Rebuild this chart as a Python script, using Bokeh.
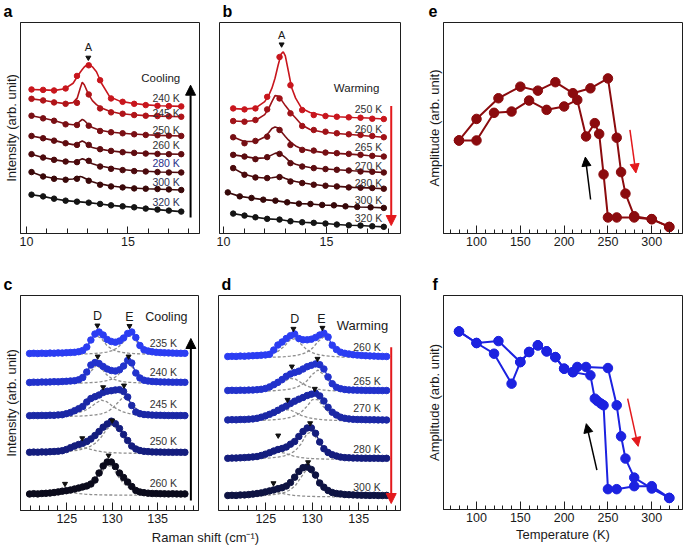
from bokeh.plotting import figure
from bokeh.models import Range1d, FixedTicker, Arrow, NormalHead
from bokeh.layouts import row, column
from bokeh.embed import file_html
from bokeh.resources import INLINE
from bokeh.core.properties import value

FONT = "Liberation Sans"
INK = "#1e1e1e"

# ---------------- panel a (cooling, peak A) ----------------
XA_PTS = [10.25, 10.82, 11.36, 11.93, 12.49, 13.07, 13.63, 14.17, 14.74, 15.31, 15.88, 16.46, 17.02, 17.63]
XA_FIT = [10.25, 10.8, 11.4, 11.9, 12.3, 12.5, 12.65, 12.75, 12.85, 13.0, 13.1, 13.25, 13.45, 13.7, 14.1, 14.6, 15.2, 15.9, 16.6, 17.63]
A_240_PTS = [144.7, 144.3, 143.7, 145.7, 158.3, 169.0, 154.0, 135.7, 132.3, 130.3, 129.0, 128.3, 128.0, 127.7]
A_240_FIT = [144.7, 144.3, 143.8, 145.5, 151.0, 157.5, 162.0, 164.8, 167.3, 169.6, 169.6, 167.5, 162.5, 151.0, 137.5, 133.0, 130.8, 129.2, 128.4, 127.7]
A_245_PTS = [135.3, 133.7, 131.7, 130.3, 131.3, 139.7, 125.7, 121.7, 120.3, 119.0, 118.3, 118.0, 117.7, 117.3]
A_245_FIT = [135.3, 133.8, 131.8, 130.5, 131.5, 136.0, 146.0, 152.0, 149.5, 142.5, 138.5, 133.5, 129.5, 126.0, 122.8, 120.6, 119.3, 118.4, 117.9, 117.3]
A_250_PTS = [118.3, 115.7, 113.3, 109.7, 109.0, 108.3, 103.0, 101.7, 100.7, 99.7, 99.0, 98.7, 98.3, 98.0]
A_250_FIT = [118.3, 116.0, 113.3, 110.2, 109.3, 110.0, 113.0, 114.7, 113.5, 110.5, 108.5, 106.5, 105.0, 103.5, 102.0, 101.0, 100.0, 99.2, 98.6, 98.0]
A_260_PTS = [98.0, 95.7, 93.3, 90.7, 89.0, 89.0, 84.7, 83.0, 81.7, 81.0, 80.3, 80.0, 79.7, 79.7]
A_260_FIT = [98.0, 95.8, 93.3, 90.8, 89.3, 89.8, 92.0, 93.0, 92.0, 89.5, 88.0, 86.5, 85.5, 84.5, 83.2, 82.0, 81.2, 80.5, 80.0, 79.7]
A_280_PTS = [79.7, 76.3, 74.0, 72.3, 71.7, 73.0, 67.3, 65.0, 63.7, 62.7, 62.3, 61.7, 61.3, 61.3]
A_280_FIT = [79.7, 76.3, 74.0, 72.5, 71.8, 72.5, 74.2, 75.0, 74.5, 72.8, 71.5, 70.0, 68.8, 67.5, 66.0, 64.5, 63.3, 62.5, 61.8, 61.3]
A_300_PTS = [61.7, 57.3, 55.0, 54.0, 55.0, 53.0, 49.0, 47.3, 46.3, 45.3, 45.0, 44.7, 44.3, 43.7]
A_300_FIT = [61.7, 57.5, 55.2, 54.2, 54.8, 56.5, 57.3, 56.8, 55.8, 54.2, 53.2, 52.0, 50.8, 49.6, 48.0, 46.8, 45.7, 45.0, 44.5, 43.7]
A_320_PTS = [39.0, 37.3, 35.0, 33.0, 32.0, 31.0, 29.7, 28.3, 27.3, 26.3, 25.0, 24.0, 23.0, 22.0]
A_LABELS = ["240 K", "245 K", "250 K", "260 K", "280 K", "300 K", "320 K"]
A_LABEL_Y = [136.3, 120.7, 104.0, 89.0, 71.0, 51.3, 31.3]

# ---------------- panel b (warming, peak A) ----------------
XB_PTS = [10.47, 11.02, 11.55, 12.12, 12.72, 13.25, 13.82, 14.38, 14.95, 15.5, 16.08, 16.65, 17.22, 17.78]
XB_PTS_300 = [10.21, 10.79, 11.36, 11.93, 12.52, 13.09, 13.66, 14.22, 14.79, 15.36, 15.92, 16.49, 17.14, 17.78]
XB_FIT = [10.47, 11.0, 11.55, 12.0, 12.2, 12.35, 12.5, 12.65, 12.8, 12.9, 13.0, 13.15, 13.3, 13.5, 13.8, 14.2, 14.8, 15.5, 16.3, 17.0, 17.78]
B_250_PTS = [125.7, 124.7, 125.7, 137.3, 177.3, 149.0, 124.0, 119.0, 118.0, 117.3, 116.7, 116.3, 115.3, 115.0]
B_250_FIT = [125.5, 125.0, 126.0, 132.5, 139.0, 146.0, 156.0, 169.0, 180.5, 182.5, 178.5, 163.0, 147.0, 136.0, 125.5, 121.5, 118.8, 117.3, 116.5, 116.0, 115.0]
B_260_PTS = [113.0, 112.3, 114.0, 124.7, 135.7, 120.7, 108.0, 104.0, 102.3, 100.7, 99.7, 99.0, 98.0, 96.7]
B_260_FIT = [113.0, 112.5, 113.5, 119.5, 126.0, 132.5, 138.5, 138.0, 134.5, 131.5, 128.5, 124.5, 120.5, 116.0, 109.0, 104.5, 102.0, 100.5, 99.2, 98.0, 96.7]
B_265_PTS = [96.7, 90.7, 93.0, 97.3, 104.0, 89.0, 84.0, 83.3, 81.3, 80.7, 80.0, 79.0, 78.0, 77.3]
B_265_FIT = [97.0, 92.5, 92.5, 97.0, 101.5, 105.5, 107.0, 106.0, 102.5, 100.0, 97.5, 94.0, 91.0, 88.0, 85.0, 83.3, 81.5, 80.5, 79.5, 78.3, 77.3]
B_270_PTS = [79.0, 77.3, 74.7, 76.7, 80.0, 70.7, 67.3, 65.7, 64.7, 64.0, 63.3, 62.3, 62.0, 61.3]
B_270_FIT = [79.0, 77.5, 75.5, 76.0, 77.5, 79.0, 80.5, 81.0, 79.5, 78.0, 76.5, 73.5, 71.5, 69.5, 67.8, 66.3, 65.0, 64.0, 63.0, 62.2, 61.3]
B_280_PTS = [65.7, 59.0, 56.3, 55.7, 56.7, 52.3, 50.7, 49.0, 48.0, 47.3, 46.3, 46.0, 45.7, 45.0]
B_280_FIT = [65.7, 59.5, 56.5, 55.7, 55.7, 56.0, 56.5, 57.0, 56.8, 56.2, 55.3, 54.2, 53.2, 52.2, 51.0, 49.8, 48.3, 47.3, 46.3, 45.8, 45.0]
B_300_PTS = [41.3, 37.3, 35.7, 34.0, 33.0, 31.3, 30.0, 29.7, 28.7, 28.3, 27.3, 26.7, 26.3, 25.7]
B_320_PTS = [20.0, 18.0, 16.3, 14.7, 14.0, 12.3, 11.3, 10.7, 10.0, 9.0, 8.3, 8.0, 7.3, 6.7]
B_LABELS = ["250 K", "260 K", "265 K", "270 K", "280 K", "300 K", "320 K"]
B_LABEL_Y = [125.0, 105.0, 87.0, 68.3, 51.0, 34.0, 16.0]

# ---------------- panels c, d (modes D and E) ----------------
X_CD = [120.9, 121.35, 121.8, 122.25, 122.7, 123.15, 123.6, 124.05, 124.5, 124.95, 125.4, 125.85, 126.3,
        126.75, 127.2, 127.65, 128.1, 128.55, 129.0, 129.45, 129.9, 130.35, 130.8, 131.25, 131.7, 132.15,
        132.6, 133.05, 133.5, 133.95, 134.4, 134.85, 135.3, 135.75, 136.2, 136.65, 137.1, 137.55, 138.0]
C_235 = [157.0, 157.2, 157.0, 157.3, 157.1, 157.4, 157.3, 157.6, 157.5, 157.8, 158.0, 158.2, 158.8, 160.0, 163.5, 170.5, 176.5, 178.5, 175.5, 171.0, 169.0, 168.3, 169.5, 172.5, 177.0, 178.5, 173.0, 165.0, 160.7, 159.5, 158.7, 158.2, 157.9, 157.7, 157.6, 157.4, 157.3, 157.2, 157.2]
C_240 = [128.0, 128.3, 128.2, 128.5, 128.4, 128.6, 128.8, 128.7, 129.0, 129.2, 129.5, 129.8, 130.7, 133.0, 138.5, 145.5, 148.0, 147.0, 144.0, 141.5, 140.0, 139.5, 140.7, 144.5, 150.0, 147.5, 137.5, 132.5, 130.3, 129.5, 129.0, 128.8, 128.6, 128.5, 128.4, 128.3, 128.3, 128.2, 128.2]
C_245 = [94.8, 95.0, 94.9, 95.1, 95.0, 95.3, 95.2, 95.6, 95.8, 96.8, 98.0, 99.8, 101.8, 104.0, 108.5, 112.0, 113.8, 115.5, 118.0, 119.3, 119.8, 120.5, 120.8, 119.0, 113.5, 105.0, 98.5, 96.8, 96.0, 95.7, 95.4, 95.3, 95.2, 95.1, 95.0, 95.0, 94.9, 95.0, 94.9]
C_250 = [58.2, 58.4, 58.3, 58.6, 58.5, 58.8, 59.0, 59.3, 59.8, 61.0, 62.8, 64.5, 66.0, 67.2, 69.0, 71.5, 75.0, 79.0, 83.3, 86.5, 89.3, 86.8, 82.0, 76.0, 70.0, 64.5, 61.5, 60.0, 59.2, 58.9, 58.6, 58.5, 58.4, 58.3, 58.3, 58.2, 58.3, 58.2, 58.2]
C_260 = [16.5, 16.8, 16.6, 17.0, 17.2, 17.5, 18.0, 18.6, 19.3, 19.8, 20.5, 21.5, 22.5, 23.6, 24.6, 26.5, 30.5, 37.5, 44.5, 48.5, 48.5, 44.0, 37.5, 33.0, 28.5, 24.0, 20.0, 18.5, 17.8, 17.3, 17.0, 16.9, 16.8, 16.7, 16.6, 16.7, 16.6, 16.5, 16.6]
D_260 = [154.0, 154.2, 154.1, 154.4, 154.3, 154.6, 154.8, 155.0, 155.3, 155.6, 156.2, 160.5, 165.5, 168.5, 172.0, 174.8, 176.5, 172.0, 170.7, 170.7, 171.3, 173.0, 175.5, 177.3, 173.5, 165.3, 161.0, 158.3, 157.2, 156.5, 155.8, 155.4, 155.1, 154.8, 154.6, 154.4, 154.2, 154.1, 154.0]
D_265 = [120.0, 120.2, 120.1, 120.3, 120.2, 120.4, 120.5, 120.8, 121.2, 122.0, 123.6, 125.8, 128.2, 131.0, 134.2, 136.5, 138.0, 139.3, 141.5, 143.8, 145.2, 146.6, 145.8, 141.5, 133.5, 126.8, 123.2, 121.8, 121.0, 120.6, 120.4, 120.3, 120.2, 120.1, 120.1, 120.0, 120.0, 119.9, 120.0]
D_270 = [90.6, 90.8, 90.7, 91.0, 91.0, 91.3, 91.6, 92.2, 93.3, 94.6, 96.2, 98.0, 100.2, 102.5, 104.4, 107.0, 109.3, 111.3, 113.0, 115.0, 116.3, 117.3, 114.6, 109.5, 103.2, 98.3, 95.5, 93.3, 92.2, 91.6, 91.2, 91.0, 90.9, 90.8, 90.7, 90.7, 90.6, 90.6, 90.5]
D_280 = [52.2, 52.4, 52.5, 52.7, 52.9, 53.2, 53.6, 54.0, 55.0, 56.3, 57.8, 59.5, 61.0, 62.0, 63.5, 66.3, 69.0, 74.0, 79.0, 82.5, 82.6, 77.2, 68.5, 61.8, 58.0, 55.8, 54.5, 53.4, 52.9, 52.7, 52.5, 52.4, 52.3, 52.3, 52.2, 52.3, 52.2, 52.1, 52.2]
D_300 = [15.0, 15.2, 15.1, 15.5, 15.6, 15.9, 16.4, 17.0, 17.6, 18.6, 19.6, 20.6, 21.8, 22.8, 24.5, 28.0, 33.3, 39.0, 42.8, 43.5, 41.0, 35.5, 27.5, 23.3, 20.0, 18.0, 17.0, 16.6, 16.0, 15.8, 15.6, 15.4, 15.3, 15.2, 15.1, 15.2, 15.0, 15.0, 15.1]

# fitted components (dashed grey)
XK = [120.9, 123.0, 124.5, 125.5, 126.3, 127.0, 127.6, 128.2, 128.8, 129.4, 130.0, 130.6, 131.2, 131.8, 132.4, 133.2, 134.5, 138.0]
C_235_D = [156.1, 156.5, 157.0, 158.0, 159.6, 162.8, 168.3, 175.0, 172.1, 165.1, 161.1, 159.0, 158.0, 157.3, 156.9, 156.6, 156.3, 156.0]
C_235_E = [156.0, 156.0, 156.2, 156.3, 156.4, 156.6, 156.8, 157.1, 157.6, 158.4, 159.9, 162.7, 168.3, 175.0, 172.1, 163.4, 158.4, 156.3]
C_240_D = [127.1, 127.4, 128.0, 128.8, 130.4, 133.3, 138.6, 144.9, 142.2, 135.6, 131.8, 129.9, 128.8, 128.2, 127.9, 127.6, 127.3, 127.0]
C_240_E = [127.0, 127.1, 127.2, 127.3, 127.4, 127.6, 127.9, 128.2, 128.8, 129.8, 131.5, 135.0, 141.5, 146.8, 141.5, 133.6, 129.2, 127.3]
C_245_D = [94.1, 94.5, 95.3, 96.3, 97.8, 100.0, 103.2, 107.4, 110.4, 108.8, 104.6, 101.0, 98.6, 97.1, 96.1, 95.3, 94.6, 93.9]
C_245_E = [93.7, 93.8, 94.0, 94.2, 94.4, 94.7, 95.1, 95.7, 96.7, 98.5, 101.9, 107.7, 113.3, 110.1, 103.5, 98.5, 95.6, 94.0]
C_250_D = [57.2, 57.6, 58.7, 60.5, 62.4, 62.6, 61.2, 59.8, 58.8, 58.2, 57.8, 57.6, 57.4, 57.3, 57.2, 57.1, 57.0, 56.9]
C_250_E = [57.5, 57.9, 58.6, 59.4, 60.4, 62.0, 64.2, 67.7, 73.5, 81.3, 85.8, 81.3, 73.5, 67.7, 64.2, 61.4, 59.4, 57.7]
C_260_D = [15.7, 16.6, 18.6, 18.1, 17.0, 16.3, 16.0, 15.8, 15.6, 15.5, 15.5, 15.4, 15.4, 15.35, 15.3, 15.3, 15.3, 15.2]
C_260_E = [15.9, 16.3, 17.1, 18.0, 19.4, 21.4, 24.4, 29.5, 37.5, 45.5, 43.5, 34.7, 27.5, 23.2, 20.7, 18.8, 17.2, 15.9]
D_260_D = [153.1, 153.6, 154.6, 156.3, 159.1, 164.3, 170.5, 171.9, 166.3, 160.9, 157.8, 156.0, 155.0, 154.3, 153.9, 153.5, 153.2, 152.8]
D_260_E = [152.7, 152.9, 153.0, 153.3, 153.5, 153.8, 154.3, 155.0, 156.2, 158.2, 162.1, 168.7, 173.5, 168.7, 162.1, 157.4, 154.6, 153.0]
D_265_D = [119.1, 119.6, 120.6, 122.3, 125.0, 129.1, 132.2, 131.4, 127.8, 124.6, 122.5, 121.3, 120.5, 120.0, 119.7, 119.4, 119.1, 118.8]
D_265_E = [118.8, 119.0, 119.3, 119.6, 120.1, 120.7, 121.5, 122.9, 125.3, 129.5, 136.1, 140.5, 136.1, 129.5, 125.3, 122.4, 120.4, 119.1]
D_270_D = [89.8, 90.5, 91.9, 94.1, 97.5, 100.7, 100.7, 98.0, 95.2, 93.3, 92.0, 91.3, 90.7, 90.4, 90.2, 89.9, 89.7, 89.4]
D_270_E = [89.6, 89.8, 90.1, 90.6, 91.1, 91.9, 93.0, 94.9, 98.2, 103.9, 110.8, 110.8, 103.9, 98.2, 94.9, 92.6, 90.9, 89.8]
D_280_D = [51.4, 52.2, 54.1, 57.0, 58.8, 57.4, 55.4, 53.9, 52.9, 52.3, 51.9, 51.7, 51.5, 51.4, 51.3, 51.2, 51.1, 50.9]
D_280_E = [51.2, 51.6, 52.0, 52.6, 53.4, 54.7, 56.6, 60.1, 66.7, 76.5, 78.9, 69.7, 61.9, 57.5, 55.2, 53.6, 52.3, 51.3]
D_300_D = [13.9, 14.6, 16.4, 18.3, 18.0, 16.6, 15.6, 14.9, 14.5, 14.2, 14.1, 13.9, 13.9, 13.8, 13.7, 13.7, 13.6, 13.6]
D_300_E = [13.9, 14.3, 14.8, 15.5, 16.5, 18.0, 20.5, 25.2, 33.4, 41.2, 36.7, 27.5, 21.7, 18.7, 17.0, 15.8, 14.8, 13.9]

C_TRI_X = [128.37, 131.9, 128.4, 131.8, 129.0, 131.3, 126.7, 130.0, 124.8, 129.6]
C_TRI_Y = [185.0, 184.5, 154.0, 154.0, 123.3, 125.0, 72.3, 90.0, 26.7, 55.0]
D_TRI_X = [127.97, 131.09, 127.8, 130.56, 127.33, 130.27, 126.33, 129.77, 125.82, 129.55]
D_TRI_Y = [181.7, 182.7, 144.0, 151.7, 110.7, 121.7, 75.0, 87.3, 27.3, 48.3]
C_LABELS = ["235 K", "240 K", "245 K", "250 K", "260 K"]
C_LABEL_Y = [167.3, 138.3, 106.7, 70.0, 27.3]
D_LABELS = ["260 K", "265 K", "270 K", "280 K", "300 K"]
D_LABEL_Y = [163.3, 130.0, 102.7, 61.7, 23.3]

# ---------------- panels e, f (amplitude vs temperature) ----------------
E_T_WARM = [80, 100, 125, 150, 170, 190, 210, 230, 250, 260, 265, 270, 280, 300, 320]
E_A_WARM = [44.1, 54.3, 64.1, 69.6, 67.7, 71.7, 66.5, 68.8, 73.5, 45.4, 29.1, 18.9, 8.2, 6.8, 3.1]
E_T_COOL = [320, 300, 280, 260, 250, 245, 240, 235, 225, 215, 200, 180, 160, 140, 120, 100, 80]
E_A_COOL = [3.1, 6.8, 7.6, 7.6, 7.6, 28.0, 47.2, 52.3, 46.0, 63.3, 60.2, 58.6, 63.0, 57.8, 57.2, 44.1, 44.1]
F_T_WARM = [80, 100, 125, 150, 160, 170, 180, 190, 200, 210, 215, 225, 250, 260, 265, 270, 280, 300, 320]
F_A_WARM = [83.2, 77.8, 78.7, 68.9, 73.6, 76.7, 73.9, 71.2, 65.8, 64.2, 66.6, 66.6, 66.1, 48.7, 34.2, 23.8, 14.9, 9.8, 5.4]
F_T_COOL = [320, 300, 280, 260, 250, 245, 242, 238, 235, 230, 210, 200, 190, 180, 170, 160, 150, 140, 120, 100, 80]
F_A_COOL = [5.4, 10.9, 10.9, 9.5, 9.5, 48.7, 49.5, 50.7, 51.8, 62.7, 64.2, 65.8, 71.2, 73.9, 76.7, 73.6, 68.9, 58.8, 72.8, 77.8, 83.2]
T_TICKS = [100, 150, 200, 250, 300]

TOP_LETTERS = ["a", "b", "e"]
MID_LETTERS = ["c", "d", "f"]


def base_fig(w, h, xr, yr, bl, br, bt, bb):
    p = figure(width=w, height=h, x_range=Range1d(*xr), y_range=Range1d(*yr),
               output_backend="svg", toolbar_location=None,
               min_border_left=bl, min_border_right=br, min_border_top=bt, min_border_bottom=bb)
    p.xgrid.visible = False
    p.ygrid.visible = False
    p.outline_line_color = INK
    p.outline_line_width = 1
    p.background_fill_color = "white"
    p.border_fill_color = "white"
    return p


def text_strip(w, h):
    s = figure(width=w, height=h, x_range=Range1d(0, w), y_range=Range1d(0, h),
               output_backend="svg", toolbar_location=None, min_border=0, title=None,
               x_axis_type=None, y_axis_type=None)
    s.grid.visible = False
    s.outline_line_color = None
    return s


def style_x(p, ticks, minor, maj_in, min_in, label=None):
    ax = p.xaxis[0]
    ax.ticker = FixedTicker(ticks=ticks, minor_ticks=minor)
    ax.major_tick_in = maj_in
    ax.major_tick_out = 0
    ax.minor_tick_in = min_in
    ax.minor_tick_out = 0
    ax.major_label_standoff = 3
    ax.major_label_text_font = FONT
    ax.major_label_text_font_size = "12.5px"
    ax.major_label_text_color = "#1a1a1a"
    ax.axis_line_color = INK
    ax.major_tick_line_color = INK
    ax.minor_tick_line_color = INK
    if label:
        ax.axis_label = label
        ax.axis_label_text_font = FONT
        ax.axis_label_text_font_size = "13px"
        ax.axis_label_text_font_style = "normal"
        ax.axis_label_text_color = "#1a1a1a"
        ax.axis_label_standoff = 2


def style_y(p, label=None):
    ay = p.yaxis[0]
    if label is None:
        ay.visible = False
        return
    ay.ticker = FixedTicker(ticks=[])
    ay.major_tick_in = 0
    ay.major_tick_out = 0
    ay.minor_tick_in = 0
    ay.minor_tick_out = 0
    ay.major_label_standoff = 0
    ay.axis_line_color = INK
    ay.axis_label = label
    ay.axis_label_text_font = FONT
    ay.axis_label_text_font_size = "13px"
    ay.axis_label_text_font_style = "normal"
    ay.axis_label_text_color = "#1a1a1a"
    ay.axis_label_standoff = 2


def add_text(p, xs, ys, texts, size, colors, align="right"):
    p.text(x=xs, y=ys, text=texts, text_font=value(FONT), text_font_size=size,
           text_color=colors, text_align=align, text_baseline="middle")


def add_arrow(p, x0, y0, x1, y1, col, lw=2, size=10):
    p.add_layout(Arrow(x_start=x0, y_start=y0, x_end=x1, y_end=y1, line_color=col, line_width=lw,
                       end=NormalHead(size=size, fill_color=col, line_color=col)))


# ---------- panel letters (strips above each row) ----------
top_strip = text_strip(684, 21)
top_strip.text(x=[3, 222, 428], y=[10.5, 10.5, 10.5], text=TOP_LETTERS, text_font=value(FONT),
               text_font_size="16px", text_font_style="bold", text_color="black",
               text_align="left", text_baseline="middle")
mid_strip = text_strip(684, 30)
mid_strip.text(x=[3, 221, 432], y=[10, 10, 10], text=MID_LETTERS, text_font=value(FONT),
               text_font_size="16px", text_font_style="bold", text_color="black",
               text_align="left", text_baseline="middle")

# ---------- a ----------
pa = base_fig(209, 243, (9.706, 18.53), (0, 212), 19, 10, 1, 30)
style_x(pa, [10, 15], list(range(10, 19)), 7, 5)
style_y(pa, "Intensity (arb. unit)")
a_series = [
    (XA_FIT, A_240_FIT, XA_PTS, A_240_PTS, "#c8161d"),
    (XA_FIT, A_245_FIT, XA_PTS, A_245_PTS, "#b01419"),
    (XA_FIT, A_250_FIT, XA_PTS, A_250_PTS, "#7a0f14"),
    (XA_FIT, A_260_FIT, XA_PTS, A_260_PTS, "#600c10"),
    (XA_FIT, A_280_FIT, XA_PTS, A_280_PTS, "#4c0a0d"),
    (XA_FIT, A_300_FIT, XA_PTS, A_300_PTS, "#3a0809"),
    (XA_PTS, A_320_PTS, XA_PTS, A_320_PTS, "#141414"),
]
for xf, yf, xp, yp, col in a_series:
    pa.line(xf, yf, line_color=col, line_width=1.6)
    pa.scatter(xp, yp, size=5.5, fill_color=col, line_color=col)
add_text(pa, [17.56] * 7, A_LABEL_Y, A_LABELS, "10.5px",
         ["#333333", "#333333", "#333333", "#333333", "#2a2f8a", "#2c2f55", "#2c2f55"])
add_text(pa, [16.62], [156.3], ["Cooling"], "11.5px", ["#1a1a1a"], "center")
add_text(pa, [13.05], [187.3], ["A"], "11px", ["#1a1a1a"], "center")
pa.scatter([13.05], [176.7], marker="inverted_triangle", size=5, color="#111111")
add_arrow(pa, 18.09, 16, 18.09, 149, "black")

# ---------- b ----------
pb = base_fig(214, 243, (9.806, 18.59), (0, 212), 10, 23, 1, 30)
style_x(pb, [10, 15], list(range(10, 19)), 7, 5)
style_y(pb)
b_series = [
    (XB_FIT, B_250_FIT, XB_PTS, B_250_PTS, "#c8161d"),
    (XB_FIT, B_260_FIT, XB_PTS, B_260_PTS, "#a01218"),
    (XB_FIT, B_265_FIT, XB_PTS, B_265_PTS, "#760f14"),
    (XB_FIT, B_270_FIT, XB_PTS, B_270_PTS, "#5c0c10"),
    (XB_FIT, B_280_FIT, XB_PTS, B_280_PTS, "#4a0a0c"),
    (XB_PTS_300, B_300_PTS, XB_PTS_300, B_300_PTS, "#360809"),
    (XB_PTS, B_320_PTS, XB_PTS, B_320_PTS, "#141414"),
]
for xf, yf, xp, yp, col in b_series:
    pb.line(xf, yf, line_color=col, line_width=1.6)
    pb.scatter(xp, yp, size=5.5, fill_color=col, line_color=col)
add_text(pb, [17.70] * 7, B_LABEL_Y, B_LABELS, "10.5px", ["#333333"] * 7)
add_text(pb, [16.46], [146], ["Warming"], "11.5px", ["#1a1a1a"], "center")
add_text(pb, [12.82], [199], ["A"], "11px", ["#1a1a1a"], "center")
pb.scatter([12.82], [190], marker="inverted_triangle", size=5, color="#111111")
add_arrow(pb, 18.14, 128, 18.14, 8, "#e3191c")

# ---------- e ----------
pe = base_fig(261, 243, (62.3, 335.1), (0, 100), 18, 2, 1, 31)
style_x(pe, T_TICKS, list(range(70, 340, 10)), 8, 4)
style_y(pe, "Amplitude (arb. unit)")
for xs, ys in [(E_T_WARM, E_A_WARM), (E_T_COOL, E_A_COOL)]:
    pe.line(xs, ys, line_color="#8b0b0e", line_width=2)
    pe.scatter(xs, ys, size=9.5, fill_color="#8b0b0e", line_color="#8b0b0e")
add_arrow(pe, 230.2, 16.1, 224.2, 36.2, "black", 1.5, 9)
add_arrow(pe, 275.1, 49.1, 281.9, 28.7, "#e3191c", 1.5, 9)

# ---------- c ----------
pc = base_fig(209, 234, (119.9, 139.5), (0, 215), 18, 11, 1, 18)
style_x(pc, [125, 130, 135], list(range(121, 140)), 8, 5)
style_y(pc, "Intensity (arb. unit)")
c_series = [(C_235, C_235_D, C_235_E, "#2b3df2"), (C_240, C_240_D, C_240_E, "#2232cc"),
            (C_245, C_245_D, C_245_E, "#1b28a6"), (C_250, C_250_D, C_250_E, "#141d7e"),
            (C_260, C_260_D, C_260_E, "#0b0b1c")]
for ys, cd, ce, col in c_series:
    pc.line(XK, cd, line_color="#8e8e8e", line_width=1.3, line_dash="3 2")
    pc.line(XK, ce, line_color="#8e8e8e", line_width=1.3, line_dash="3 2")
    pc.line(X_CD, ys, line_color=col, line_width=1.3)
    pc.scatter(X_CD, ys, size=6.5, fill_color=col, line_color=col)
pc.scatter(C_TRI_X, C_TRI_Y, marker="inverted_triangle", size=5, color="#111111")
add_text(pc, [137.14] * 5, C_LABEL_Y, C_LABELS, "10.5px", ["#333333"] * 5)
add_text(pc, [128.37, 131.9], [195, 194], ["D", "E"], "12.5px", ["#1a1a1a"] * 2, "center")
add_text(pc, [135.96], [194], ["Cooling"], "12.5px", ["#1a1a1a"], "center")
add_arrow(pc, 138.66, 10, 138.66, 172, "black")

# ---------- d ----------
pd = base_fig(214, 234, (119.9, 139.5), (0, 215), 9, 23, 1, 18)
style_x(pd, [125, 130, 135], list(range(121, 140)), 8, 5)
style_y(pd)
d_series = [(D_260, D_260_D, D_260_E, "#2b3df2"), (D_265, D_265_D, D_265_E, "#2232cc"),
            (D_270, D_270_D, D_270_E, "#1b28a6"), (D_280, D_280_D, D_280_E, "#141d7e"),
            (D_300, D_300_D, D_300_E, "#0e1342")]
for ys, cd, ce, col in d_series:
    pd.line(XK, cd, line_color="#8e8e8e", line_width=1.3, line_dash="3 2")
    pd.line(XK, ce, line_color="#8e8e8e", line_width=1.3, line_dash="3 2")
    pd.line(X_CD, ys, line_color=col, line_width=1.3)
    pd.scatter(X_CD, ys, size=6.5, fill_color=col, line_color=col)
pd.scatter(D_TRI_X, D_TRI_Y, marker="inverted_triangle", size=5, color="#111111")
add_text(pd, [137.37] * 5, D_LABEL_Y, D_LABELS, "10.5px", ["#333333"] * 5)
add_text(pd, [128.1, 130.98], [191.7, 191.7], ["D", "E"], "12.5px", ["#1a1a1a"] * 2, "center")
add_text(pd, [135.4], [185], ["Warming"], "13px", ["#1a1a1a"], "center")
add_arrow(pd, 138.5, 163.3, 138.5, 7, "#e3191c")

# ---------- f ----------
pf = base_fig(261, 252, (62.3, 335.1), (0, 100), 18, 2, 1, 37)
style_x(pf, T_TICKS, list(range(70, 340, 10)), 8, 4, "Temperature (K)")
style_y(pf, "Amplitude (arb. unit)")
for xs, ys in [(F_T_WARM, F_A_WARM), (F_T_COOL, F_A_COOL)]:
    pf.line(xs, ys, line_color="#1c22e0", line_width=2)
    pf.scatter(xs, ys, size=9.5, fill_color="#1c22e0", line_color="#1c22e0")
add_arrow(pf, 237.4, 18.4, 225.3, 40.1, "black", 1.5, 9)
add_arrow(pf, 272.5, 51.8, 284.5, 29.5, "#e3191c", 1.5, 9)

# ---------- shared x label for c and d ----------
strip = text_strip(423, 18)
strip.text(x=[205], y=[9], text=["Raman shift (cm\u207b\u00b9)"], text_font=value(FONT),
           text_font_size="13px", text_color="#1a1a1a", text_align="center", text_baseline="middle")

layout = column(top_strip, row(pa, pb, pe), mid_strip,
                row(column(row(pc, pd), strip), pf))
open("out.html", "w").write(file_html(layout, INLINE))
